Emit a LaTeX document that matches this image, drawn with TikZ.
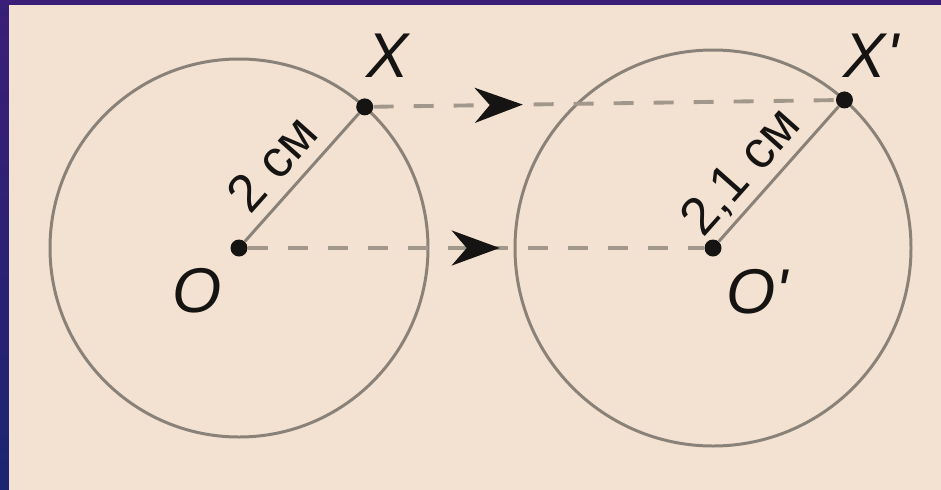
\documentclass[tikz,border=0pt]{standalone}
\usepackage{fontspec}
\setmainfont{Liberation Sans}
\usepackage{xcolor}
\definecolor{paper}{RGB}{243,226,209}
\definecolor{ink}{RGB}{22,20,18}
\definecolor{rim}{RGB}{138,130,121}
\definecolor{trail}{RGB}{162,151,139}
\definecolor{plum}{RGB}{59,30,120}
\definecolor{navy}{RGB}{28,37,112}
\usetikzlibrary{arrows.meta,decorations.markings}
\tikzset{
  dot/.style={circle, fill=ink, inner sep=0pt, minimum size=0.34cm},
  rimline/.style={draw=rim, line width=1.7pt},
  shiftline/.style={draw=trail, line width=2.2pt, dash pattern=on 0.4cm off 0.4cm,
    postaction={decorate, decoration={markings, mark=at position #1 with
      {\arrow{Stealth[color=ink, length=0.96cm, width=0.7cm, inset=0.3cm]}}}}},
  ptlabel/.style={font=\fontsize{36}{40}\selectfont\itshape, text=ink},
  lenlabel/.style={font=\fontsize{30}{34}\selectfont, text=ink, sloped,
    above=0.24cm, text depth=0pt, inner sep=0pt},
}
\begin{document}
\begin{tikzpicture}
  \def\R{3.78}
  \def\Rp{3.96}
  \useasboundingbox (0,0) rectangle (18.82,-9.78);
  %% frame
  \shade[top color=plum, bottom color=navy] (0,0) rectangle (0.3,-9.78);
  \shade[top color=plum, bottom color=plum!80!navy] (0,0) rectangle (18.82,-0.3);
  \fill[paper] (0.18,-0.10) rectangle (19,-10);
  %% centres and points on the circles
  \coordinate (c1) at (4.78,-4.96);
  \coordinate (c2) at (14.26,-4.96);
  \coordinate (p1) at ([shift={(48.3:\R)}]c1);
  \coordinate (p2) at ([shift={(48.4:\Rp)}]c2);
  %% circles
  \draw[rimline] (c1) circle (\R);
  \draw[rimline] (c2) circle (\Rp);
  %% dots
  \node[dot] (O)  at (c1) {};
  \node[dot] (X)  at (p1) {};
  \node[dot] (Op) at (c2) {};
  \node[dot] (Xp) at (p2) {};
  %% radii
  \draw[rimline] (O) -- (X) node[lenlabel, pos=0.445] {2 см};
  \draw[rimline] (Op) -- (Xp) node[lenlabel, pos=0.37] {2,1 см};
  %% translation
  \draw[shiftline=0.323] (X) -- (Xp);
  \draw[shiftline=0.552] (O) -- (Op);
  %% letters
  \node[ptlabel] (labX)  at (7.76,-1.12) {X};
  \node[ptlabel] (labXp) at (17.42,-1.12) {X\textquotesingle};
  \node[ptlabel] (labO)  at (3.94,-5.82) {O};
  \node[ptlabel] (labOp) at (15.14,-5.84) {O\textquotesingle};
\end{tikzpicture}
\end{document}
